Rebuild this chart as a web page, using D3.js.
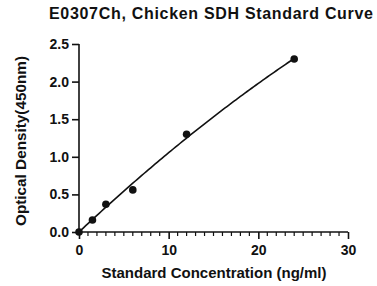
<!DOCTYPE html>
<html>
<head>
<meta charset="utf-8">
<script src="https://cdn.jsdelivr.net/npm/d3@7"></script>
<style>
  body { margin:0; background:#fff; }
  svg text { font-family: "Liberation Sans", Arial, sans-serif; font-weight:bold; fill:#111; }
</style>
</head>
<body>
<svg id="chart" width="377" height="286"></svg>
<script>
// standard points
const conc = [0, 1.5, 3, 6, 12, 24];
const od = [0, 0.16, 0.37, 0.56, 1.30, 2.30];
const xTicks = [0, 10, 20, 30];
const yTicks = [0, 0.5, 1.0, 1.5, 2.0, 2.5];

const svg = d3.select('#chart');
const margin = {left:79, right:29, top:44, bottom:54};
const W=377, H=286;

var x = d3.scaleLinear().domain([0,30]).range([margin.left, W-margin.right]);
var y = d3.scaleLinear().domain([0,2.5]).range([H-margin.bottom, margin.top]);

// quadratic fit through origin (least squares) for the standard curve
function fitQuad(xs, ys) {
  let s2=0,s3=0,s4=0,sxy=0,sx2y=0;
  for (let i=0;i<xs.length;i++) {
    let a=xs[i], b=ys[i];
    s2+=a*a; s3+=a*a*a; s4+=a*a*a*a; sxy+=a*b; sx2y+=a*a*b;
  }
  let det=s2*s4-s3*s3;
  return [(sxy*s4-s3*sx2y)/det, (s2*sx2y-s3*sxy)/det];
}
const coef = fitQuad(conc, od);
const curveX = d3.range(0, 24.01, 0.25);

svg.append('text')
  .attr('x', 211).attr('y', 18.5)
  .attr('text-anchor','middle')
  .attr('textLength', 324).attr('lengthAdjust','spacing')
  .style('font-size','16px')
  .text('E0307Ch, Chicken SDH Standard Curve');

// x axis
var xAxis = svg.append('g')
  .attr('transform', `translate(0,${y(0)})`)
  .call(d3.axisBottom(x).tickValues(xTicks).tickSize(7).tickPadding(6));
xAxis.select('.domain').attr('stroke','#111').attr('stroke-width',1.6).attr('d', `M${x(0)},0H${x(30)}`);
xAxis.selectAll('.tick line').attr('stroke','#111').attr('stroke-width',1.6);
xAxis.selectAll('.tick text').style('font-size','14px').attr('fill','#111');
xAxis.selectAll('.minor').data(d3.range(1,30).filter(d=>d%10!==0)).enter()
  .append('line')
  .attr('x1', d=>x(d)).attr('x2', d=>x(d))
  .attr('y1', 0).attr('y2', 4)
  .attr('stroke','#111').attr('stroke-width',1.2);

// y axis
var yAxis = svg.append('g')
  .attr('transform', `translate(${x(0)},0)`)
  .call(d3.axisLeft(y).tickValues(yTicks).tickFormat(d3.format('.1f')).tickSize(7).tickPadding(3));
yAxis.select('.domain').attr('stroke','#111').attr('stroke-width',1.6).attr('d', `M0,${y(0)}V${y(2.5)}`);
yAxis.selectAll('.tick line').attr('stroke','#111').attr('stroke-width',1.6);
yAxis.selectAll('.tick text').style('font-size','14px').attr('fill','#111');

// fitted curve
var line = d3.line().x(d=>x(d)).y(d=>y(coef[0]*d+coef[1]*d*d));
svg.append('path').datum(curveX)
  .attr('d', line)
  .attr('fill','none').attr('stroke','#111').attr('stroke-width',1.6);

// points
svg.selectAll('circle.pt').data(conc).enter()
  .append('circle').attr('class','pt')
  .attr('cx', d=>x(d)).attr('cy', (d,i)=>y(od[i]))
  .attr('r', 3.8).attr('fill','#111');

svg.append('text')
  .attr('x', 214).attr('y', 278)
  .attr('text-anchor','middle')
  .style('font-size','15px')
  .text('Standard Concentration (ng/ml)');

svg.append('text')
  .attr('transform', 'translate(26,141) rotate(-90)')
  .attr('text-anchor','middle')
  .style('font-size','15.3px')
  .text('Optical Density(450nm)');
</script>
</body>
</html>
